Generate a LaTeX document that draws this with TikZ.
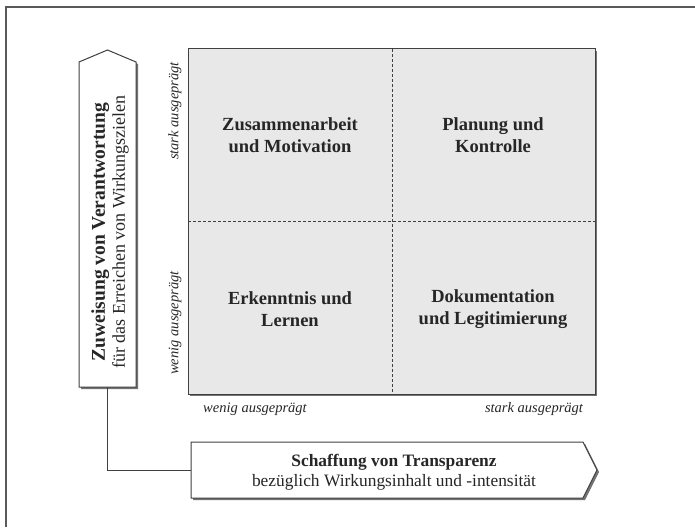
\documentclass[tikz,border=0pt]{standalone}
\usepackage{fontspec}
\setmainfont{Liberation Serif}
\begin{document}
\begin{tikzpicture}[x=1pt,y=-1pt,
  quadtext/.style={font=\fontsize{18.5}{21.5}\selectfont\bfseries, align=center, text=black!85},
  axislabel/.style={font=\fontsize{14.5}{17}\selectfont\itshape, text=black!85},
  boxline/.style={draw=black!75, line width=1pt},
  divider/.style={draw=black!75, line width=0.8pt, dash pattern=on 3pt off 2pt},
  shadowfill/.style={fill=black!55}
]
\useasboundingbox (0,0) rectangle (695,527);
% outer frame (only top and left visible)
\draw[black!65, line width=1.2pt] (6,527) -- (6,7) -- (695,7);

% matrix grid
\fill[shadowfill] (190,51) rectangle (597,396);
\filldraw[boxline, fill=black!9] (188,49) rectangle (595,394);
\draw[divider] (392,49) -- (392,394);
\draw[divider] (188,221) -- (595,221);

\node (q1) [quadtext] at (290,135) {Zusammenarbeit\\und Motivation};
\node (q2) [quadtext] at (493,135) {Planung und\\Kontrolle};
\node (q3) [quadtext] at (290,309) {Erkenntnis und\\Lernen};
\node (q4) [quadtext] at (493,309) {Dokumentation\\und Legitimierung};

% axis labels
\node (ystark) [axislabel, rotate=90] at (175,111) {stark ausgeprägt};
\node (ywenig) [axislabel, rotate=90] at (175,323) {wenig ausgeprägt};
\node (xwenig) [axislabel] at (255,409) {wenig ausgeprägt};
\node (xstark) [axislabel] at (534,409) {stark ausgeprägt};

% vertical arrow box
\fill[shadowfill] (81,64) -- (109,52) -- (138,64) -- (138,389) -- (81,389) -- cycle;
\filldraw[boxline, fill=white] (79,62) -- (107.5,50) -- (136,62) -- (136,387) -- (79,387) -- cycle;
\node (resp) [rotate=90, align=center, font=\fontsize{18}{20}\selectfont, text=black!85] at (110,232)
  {{\fontsize{19.5}{20}\selectfont\bfseries Zuweisung von Verantwortung}\\für das Erreichen von Wirkungszielen};

% horizontal arrow box
\fill[shadowfill] (193,444) -- (585,444) -- (599,472) -- (585,500) -- (193,500) -- cycle;
\filldraw[boxline, fill=white] (191,442) -- (583,442) -- (597,470) -- (583,498) -- (191,498) -- cycle;
\node (trans) [align=center, font=\fontsize{17.4}{19.5}\selectfont, text=black!85] at (394,472)
  {{\bfseries Schaffung von Transparenz}\\bezüglich Wirkungsinhalt und -intensität};

% connector
\coordinate (respbottom) at (107.5,387);
\coordinate (transleft) at (191,470);
\draw[black!75, line width=1pt] (respbottom) |- (transleft);
\end{tikzpicture}
\end{document}
